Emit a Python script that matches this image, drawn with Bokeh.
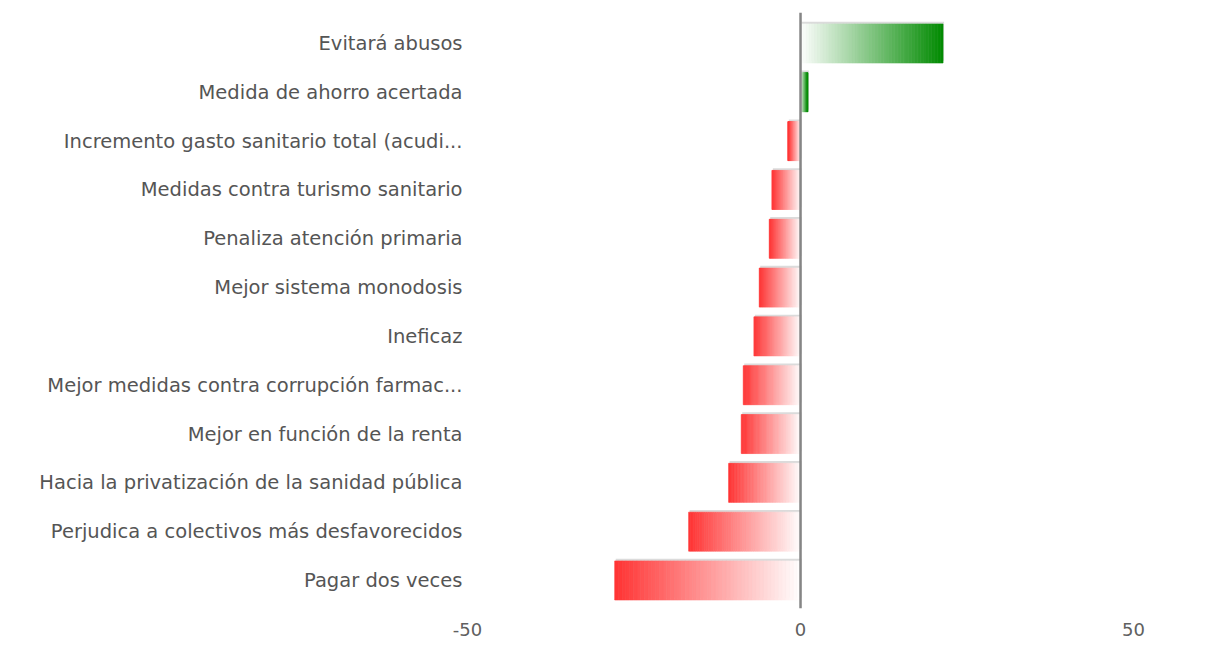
from bokeh.plotting import figure
from bokeh.models import FixedTicker, Range1d, Span
from bokeh.embed import file_html
from bokeh.resources import INLINE

categories = [
    "Evitará abusos",
    "Medida de ahorro acertada",
    "Incremento gasto sanitario total (acudi...",
    "Medidas contra turismo sanitario",
    "Penaliza atención primaria",
    "Mejor sistema monodosis",
    "Ineficaz",
    "Mejor medidas contra corrupción farmac...",
    "Mejor en función de la renta",
    "Hacia la privatización de la sanidad pública",
    "Perjudica a colectivos más desfavorecidos",
    "Pagar dos veces",
]
values = [21.4, 1.1, -1.9, -4.3, -4.7, -6.2, -7.0, -8.6, -8.9, -10.8, -16.8, -27.9]
x_ticks = [-50, 0, 50]
x_tick_labels = ["-50", "0", "50"]

n = len(categories)
ypos = [n - 1 - i for i in range(n)]  # first category on top

p = figure(width=1189, height=643, output_backend="svg", toolbar_location=None,
           x_range=Range1d(-50, 58.4), y_range=Range1d(-0.574, 11.635),
           min_border_left=467, min_border_right=0, min_border_top=12, min_border_bottom=35)
p.outline_line_color = None
p.xgrid.visible = False
p.ygrid.visible = False
p.background_fill_color = "white"
p.border_fill_color = "white"

# shadows
p.hbar(y=[y + 0.045 for y in ypos], left=[min(v, 0) + 0.15 for v in values],
       right=[max(v, 0) + 0.15 for v in values], height=0.8,
       fill_color="#999999", fill_alpha=0.35, line_color=None)

# gradient bars built from slices
N = 50
ys, ls, rs, cols = [], [], [], []
for y, v in zip(ypos, values):
    end = (0, 138, 0) if v >= 0 else (255, 51, 51)
    for k in range(N):
        a = v * k / N
        b = v * (k + 1) / N
        t = (k + 0.5) / N
        c = tuple(int(round(255 * (1 - t) + e * t)) for e in end)
        ys.append(y)
        ls.append(min(a, b))
        rs.append(max(a, b))
        cols.append("#%02x%02x%02x" % c)
p.hbar(y=ys, left=ls, right=rs, height=0.8, fill_color=cols, line_color=cols, line_width=0.6)

p.add_layout(Span(location=0, dimension="height", line_color="#858585", line_width=2.5))

# axes
p.xaxis.ticker = FixedTicker(ticks=x_ticks)
p.xaxis.major_label_overrides = {t: s for t, s in zip(x_ticks, x_tick_labels)}
p.xaxis.axis_line_color = None
p.xaxis.major_tick_line_color = None
p.xaxis.minor_tick_line_color = None
p.xaxis.major_label_standoff = 8
p.xaxis.major_label_text_font = "DejaVu Sans"
p.xaxis.major_label_text_font_size = "18px"
p.xaxis.major_label_text_color = "#606060"

p.yaxis.ticker = FixedTicker(ticks=ypos)
p.yaxis.major_label_overrides = {y: c for y, c in zip(ypos, categories)}
p.yaxis.axis_line_color = None
p.yaxis.major_tick_line_color = None
p.yaxis.minor_tick_line_color = None
p.yaxis.major_label_standoff = -1
p.yaxis.major_label_text_font = "DejaVu Sans"
p.yaxis.major_label_text_font_size = "19.5px"
p.yaxis.major_label_text_color = "#555555"

open("out.html", "w").write(file_html(p, INLINE))
